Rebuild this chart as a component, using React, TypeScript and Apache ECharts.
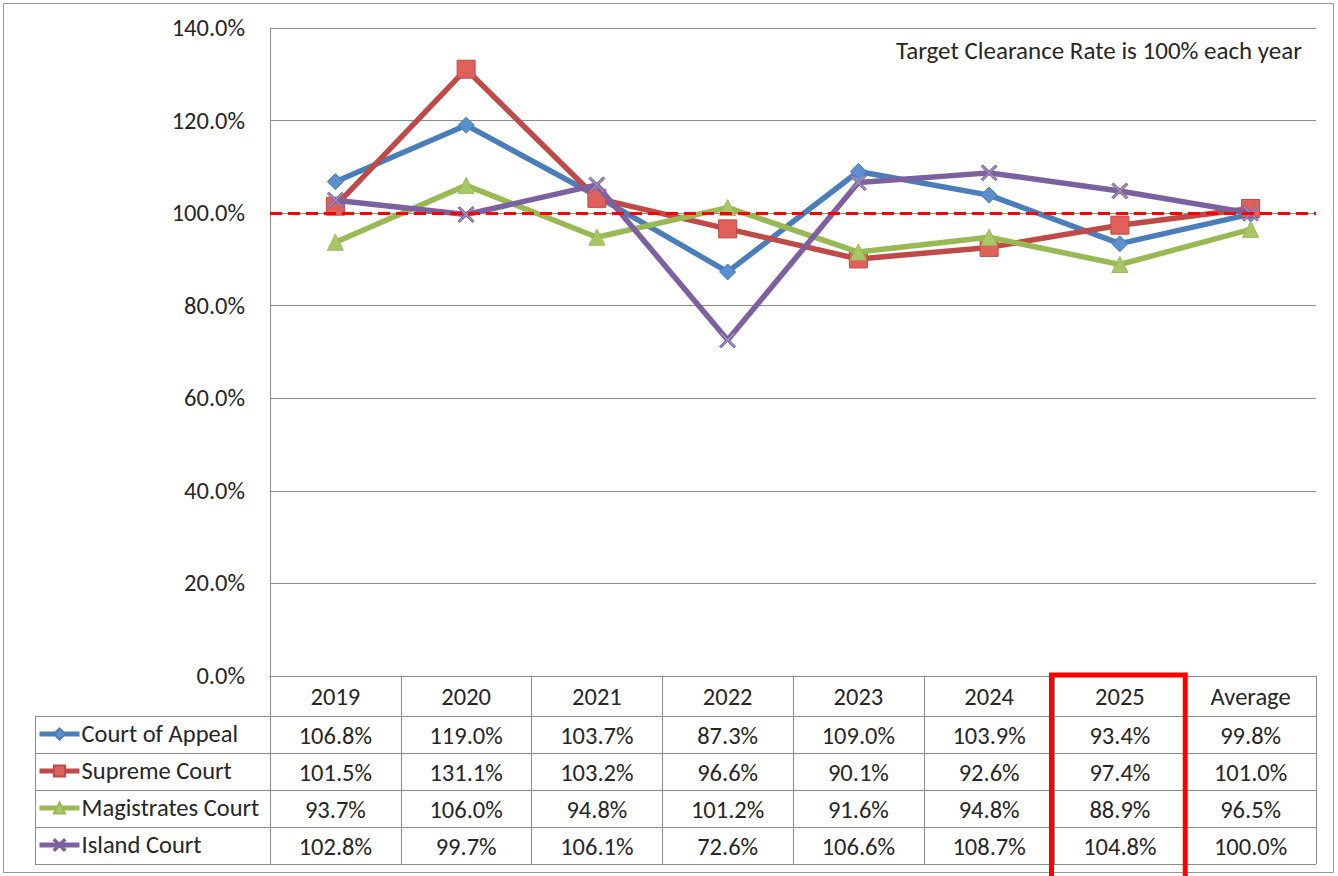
import React, { useEffect, useRef } from "react";
import * as echarts from "echarts";

const CATEGORIES = ["2019", "2020", "2021", "2022", "2023", "2024", "2025", "Average"];
const SERIES_NAMES = ["Court of Appeal", "Supreme Court", "Magistrates Court", "Island Court"];
const COURT_OF_APPEAL = [106.8, 119.0, 103.7, 87.3, 109.0, 103.9, 93.4, 99.8];
const SUPREME_COURT = [101.5, 131.1, 103.2, 96.6, 90.1, 92.6, 97.4, 101.0];
const MAGISTRATES_COURT = [93.7, 106.0, 94.8, 101.2, 91.6, 94.8, 88.9, 96.5];
const ISLAND_COURT = [102.8, 99.7, 106.1, 72.6, 106.6, 108.7, 104.8, 100.0];
const TARGET = 100;
const Y_MIN = 0;
const Y_MAX = 140;
const Y_INTERVAL = 20;
const NOTE = "Target Clearance Rate is 100% each year";
const HIGHLIGHT_CATEGORY = "2025";

const W = 1338;
const H = 876;
const GRID_LEFT = 270;
const GRID_RIGHT_X = 1316;
const GRID_TOP = 28;
const GRID_BOTTOM_Y = 676;
const HEADER_BOTTOM = 716;
const ROW_H = 37;
const TABLE_LEFT = 35;
const FONT = "Carlito, Lato, 'Open Sans', sans-serif";
const FS = 24.5;
const GRID_COLOR = "#8c8c8c";
const TEXT_COLOR = "#262626";

const LINE_COLORS = ["#4A7EBB", "#BE4B48", "#98B954", "#7D60A0"];
const MARK_COLORS = ["#5B8FD0", "#E0605C", "#A8C868", "#9C8CB8"];
const SYMBOLS = [
  "diamond",
  "rect",
  "triangle",
  "path://M1,0 L5,4 L9,0 L10,1 L6,5 L10,9 L9,10 L5,6 L1,10 L0,9 L4,5 L0,1 Z",
];
const SYMBOL_SIZES = [16, 18, 16, 16];

export default function App() {
  const ref = useRef<HTMLDivElement>(null);
  useEffect(() => {
    if (!ref.current) return;
    const chart = echarts.init(ref.current, null, { renderer: "svg" });
    const data = [COURT_OF_APPEAL, SUPREME_COURT, MAGISTRATES_COURT, ISLAND_COURT];
    const colW = (GRID_RIGHT_X - GRID_LEFT) / CATEGORIES.length;
    const tableBottom = HEADER_BOTTOM + ROW_H * SERIES_NAMES.length;

    const graphics: any[] = [];
    graphics.push({
      type: "rect",
      shape: { x: 3.5, y: 3.5, width: W - 8, height: H - 7 },
      style: { fill: "none", stroke: "#9a9a9a", lineWidth: 1 },
      silent: true,
    });
    for (let r = 0; r <= SERIES_NAMES.length; r++) {
      const y = HEADER_BOTTOM + r * ROW_H + 0.5;
      graphics.push({
        type: "line",
        shape: { x1: TABLE_LEFT, y1: y, x2: GRID_RIGHT_X, y2: y },
        style: { stroke: GRID_COLOR, lineWidth: 1 },
        silent: true,
      });
    }
    graphics.push({
      type: "line",
      shape: { x1: TABLE_LEFT + 0.5, y1: HEADER_BOTTOM, x2: TABLE_LEFT + 0.5, y2: tableBottom },
      style: { stroke: GRID_COLOR, lineWidth: 1 },
      silent: true,
    });
    data.forEach((vals, r) => {
      vals.forEach((v, c) => {
        graphics.push({
          type: "text",
          x: GRID_LEFT + (c + 0.5) * colW,
          y: HEADER_BOTTOM + (r + 0.5) * ROW_H + 1,
          style: {
            text: v.toFixed(1) + "%",
            fill: TEXT_COLOR,
            font: `${FS}px ${FONT}`,
            align: "center",
            verticalAlign: "middle",
          },
          silent: true,
        });
      });
    });
    graphics.push({
      type: "text",
      x: 1302,
      y: 50,
      style: {
        text: NOTE,
        fill: TEXT_COLOR,
        font: `25px ${FONT}`,
        align: "right",
        verticalAlign: "middle",
      },
      silent: true,
    });
    const hi = CATEGORIES.indexOf(HIGHLIGHT_CATEGORY);
    graphics.push({
      type: "rect",
      shape: {
        x: GRID_LEFT + hi * colW - 3,
        y: GRID_BOTTOM_Y - 1,
        width: colW + 3,
        height: 220,
      },
      style: { fill: "none", stroke: "#FF0000", lineWidth: 5 },
      silent: true,
      z: 100,
    });

    const legends = SERIES_NAMES.map((name, i) => ({
      data: [name],
      left: 37,
      top: HEADER_BOTTOM + i * ROW_H + ROW_H / 2 - 13,
      padding: 0,
      itemWidth: 40,
      itemHeight: 14,
      itemGap: 4,
      selectedMode: false,
      lineStyle: { width: 5 },
      textStyle: { fontSize: FS, fontFamily: FONT, color: TEXT_COLOR, padding: [0, 0, 0, -3] },
    }));

    const series: any[] = data.map((vals, i) => ({
      name: SERIES_NAMES[i],
      type: "line",
      data: vals,
      symbol: SYMBOLS[i],
      symbolSize: SYMBOL_SIZES[i],
      showAllSymbol: true,
      lineStyle: { color: LINE_COLORS[i], width: 5.5 },
      itemStyle: { color: MARK_COLORS[i], borderColor: LINE_COLORS[i], borderWidth: 1 },
      color: LINE_COLORS[i],
      z: 2 + i,
    }));
    series[3].markLine = {
      silent: true,
      symbol: "none",
      label: { show: false },
      lineStyle: { color: "#FF0000", width: 3, type: [12, 6] },
      data: [{ yAxis: TARGET }],
      z: 10,
    };

    chart.setOption({
      animation: false,
      backgroundColor: "#ffffff",
      grid: {
        left: GRID_LEFT,
        right: W - GRID_RIGHT_X,
        top: GRID_TOP,
        bottom: H - GRID_BOTTOM_Y,
        outerBoundsMode: "none",
      },
      legend: legends,
      xAxis: {
        type: "category",
        data: CATEGORIES,
        boundaryGap: true,
        axisLine: { show: true, lineStyle: { color: GRID_COLOR, width: 1 } },
        axisTick: {
          show: true,
          interval: 0,
          length: tableBottom - GRID_BOTTOM_Y,
          lineStyle: { color: GRID_COLOR, width: 1 },
        },
        axisLabel: {
          interval: 0,
          margin: 8,
          fontSize: FS,
          fontFamily: FONT,
          color: TEXT_COLOR,
        },
        splitLine: { show: false },
      },
      yAxis: {
        type: "value",
        min: Y_MIN,
        max: Y_MAX,
        interval: Y_INTERVAL,
        axisLine: { show: true, lineStyle: { color: GRID_COLOR, width: 1 } },
        axisTick: { show: false },
        axisLabel: {
          margin: 25,
          fontSize: FS,
          fontFamily: FONT,
          color: TEXT_COLOR,
          formatter: (v: number) => v.toFixed(1) + "%",
        },
        splitLine: { show: true, lineStyle: { color: GRID_COLOR, width: 1 } },
      },
      series,
      graphic: graphics,
    });
    return () => chart.dispose();
  }, []);
  return (
    <div
      ref={ref}
      style={{ position: "absolute", left: 0, top: 0, width: W, height: H }}
    />
  );
}
